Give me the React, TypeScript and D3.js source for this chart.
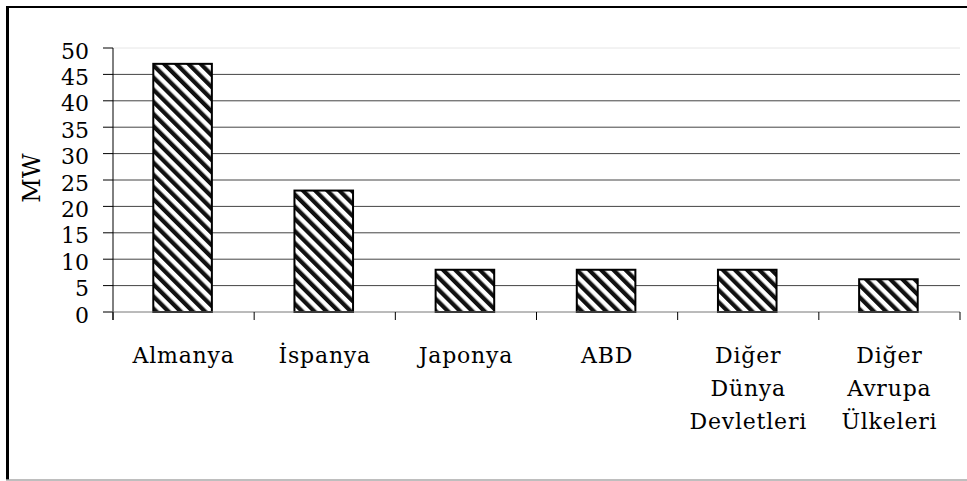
import React from "react";
import * as d3 from "d3";

// Installed wind power by country (MW)
const categories = ["Almanya", "İspanya", "Japonya", "ABD", "Diğer Dünya Devletleri", "Diğer Avrupa Ülkeleri"];
const values = [47, 23, 8, 8, 8, 6.2];
const yTicks = [0, 5, 10, 15, 20, 25, 30, 35, 40, 45, 50];
const yLabel = "MW";

const W = 967;
const H = 481;
const plot = { left: 113, right: 960, top: 48, bottom: 312 };
const FONT = "DejaVu Serif";

export default function App() {
  const x = d3.scaleBand<string>().domain(categories).range([plot.left, plot.right]).padding(0);
  const y = d3.scaleLinear().domain([0, 50]).range([plot.bottom, plot.top]);
  const bw = x.bandwidth() * 0.415;
  const bounds = [...categories.map((c) => x(c) as number), plot.right];
  const textStyle = { fontFamily: FONT };

  return (
    <svg width={W} height={H} style={{ position: "absolute", left: 0, top: 0, background: "#fff" }}>
      <defs>
        <pattern id="hatch" patternUnits="userSpaceOnUse" width={8.6} height={8.6} patternTransform="rotate(-45)">
          <rect width={8.6} height={8.6} fill="#fff" />
          <rect x={0} y={0} width={4} height={8.6} fill="#111" />
          <rect x={4} y={0} width={0.8} height={8.6} fill="#888" />
        </pattern>
      </defs>

      {/* chart frame */}
      <line x1={7} x2={W} y1={7} y2={7} stroke="#000" strokeWidth={2} />
      <line x1={7.5} x2={7.5} y1={6} y2={480} stroke="#000" strokeWidth={3} />
      <line x1={6} x2={W} y1={480} y2={480} stroke="#a8a8a8" strokeWidth={1.5} />

      {/* gridlines */}
      {yTicks.filter((t) => t > 0).map((t) => (
        <line
          key={t}
          x1={plot.left}
          x2={plot.right}
          y1={y(t)}
          y2={y(t)}
          stroke={t === 50 ? "#e6e6e6" : "#444"}
          strokeWidth={1}
        />
      ))}

      {/* y axis */}
      <line x1={plot.left} x2={plot.left} y1={plot.top} y2={plot.bottom + 8} stroke="#000" strokeWidth={1} />
      {yTicks.map((t) => (
        <g key={t}>
          <line x1={plot.left - 10} x2={plot.left} y1={y(t)} y2={y(t)} stroke="#000" strokeWidth={1} />
          <text x={89} y={y(t) + 10.5} textAnchor="end" fontSize={22} fill="#000" style={textStyle}>
            {t}
          </text>
        </g>
      ))}
      <text
        transform={`translate(40, ${(plot.top + plot.bottom) / 2 - 2}) rotate(-90)`}
        textAnchor="middle"
        fontSize={24}
        fill="#000"
        style={textStyle}
      >
        {yLabel}
      </text>

      {/* bars */}
      {categories.map((c, i) => {
        const cx = (x(c) as number) + x.bandwidth() / 2 - 1;
        return (
          <rect
            key={c}
            x={cx - bw / 2}
            y={y(values[i])}
            width={bw}
            height={y(0) - y(values[i])}
            fill="url(#hatch)"
            stroke="#000"
            strokeWidth={2}
          />
        );
      })}

      {/* x axis */}
      <line x1={plot.left - 10} x2={plot.right} y1={plot.bottom} y2={plot.bottom} stroke="#777" strokeWidth={1} />
      {bounds.map((b, i) => (
        <line key={i} x1={b} x2={b} y1={plot.bottom} y2={plot.bottom + 8} stroke="#000" strokeWidth={1} />
      ))}
      {categories.map((c) => {
        const cx = (x(c) as number) + x.bandwidth() / 2;
        return (
          <text key={c} textAnchor="middle" fontSize={22} letterSpacing={0.8} fill="#000" style={textStyle}>
            {c.split(" ").map((w, j) => (
              <tspan key={j} x={cx} y={363 + j * 33}>
                {w}
              </tspan>
            ))}
          </text>
        );
      })}
    </svg>
  );
}
